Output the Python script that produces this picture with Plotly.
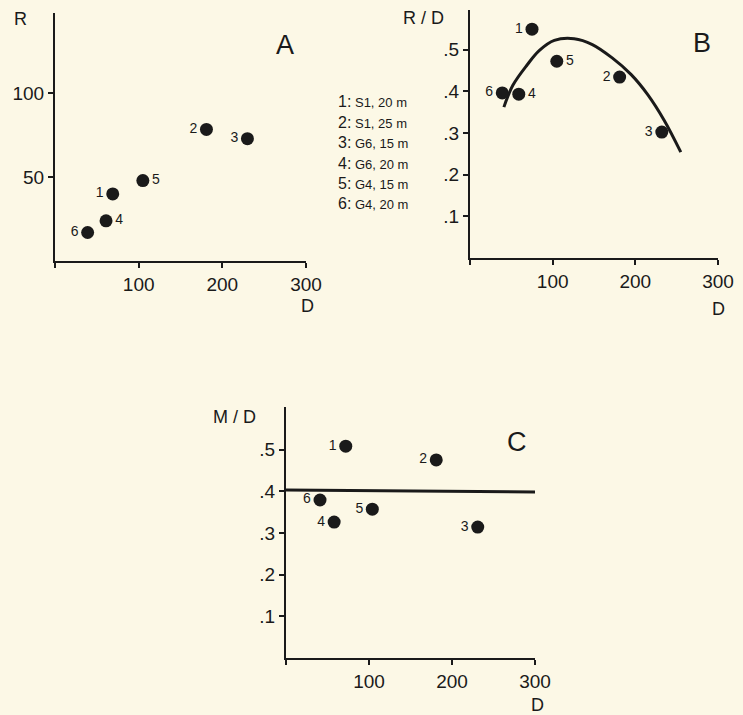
import plotly.graph_objects as go

W, H = 743, 715

# ---- data ----
labels = ["1", "2", "3", "4", "5", "6"]
legend_keys = ["1:", "2:", "3:", "4:", "5:", "6:"]
legend_vals = ["S1, 20 m", "S1, 25 m", "G6, 15 m", "G6, 20 m", "G4, 15 m", "G4, 20 m"]

D_A = [69, 181, 230, 61, 105, 39]
R_A = [40, 78.5, 73, 24, 48, 17]
pos_A = ["middle left", "middle left", "middle left", "middle right", "middle right", "middle left"]

D_B = [75, 181, 232, 59, 105, 39]
RD_B = [0.549, 0.434, 0.302, 0.393, 0.472, 0.396]
pos_B = ["middle left", "middle left", "middle left", "middle right", "middle right", "middle left"]
curve_D = [41, 52, 69, 84, 102, 126, 148, 172, 195, 215, 235, 255]
curve_RD = [0.362, 0.415, 0.463, 0.498, 0.522, 0.526, 0.512, 0.480, 0.440, 0.392, 0.330, 0.254]

D_C = [72, 181, 231, 58, 104, 41]
MD_C = [0.508, 0.475, 0.314, 0.326, 0.357, 0.379]
pos_C = ["middle left"] * 6
line_D = [0, 302]
line_MD = [0.403, 0.398]

x_ticks = [0, 100, 200, 300]
x_ticktext = ["", "100", "200", "300"]
yA_ticks = [50, 100]
yB_ticks = [0.1, 0.2, 0.3, 0.4, 0.5]
yB_ticktext = [".1", ".2", ".3", ".4", ".5"]

INK = "#1a1a1a"
BG = "#fcf8e6"
FONT = "Liberation Sans, Arial, Helvetica, sans-serif"


def px_x(p):
    return p / W


def px_y(p):
    return 1 - p / H


fig = go.Figure()


def pts(x, y, pos, xa, ya):
    fig.add_trace(go.Scatter(
        x=x, y=y, mode="markers+text", text=labels, textposition=pos,
        textfont=dict(size=14, color=INK, family=FONT),
        marker=dict(size=13, color=INK),
        xaxis=xa, yaxis=ya, showlegend=False, cliponaxis=False))


pts(D_A, R_A, pos_A, "x", "y")
fig.add_trace(go.Scatter(x=curve_D, y=curve_RD, mode="lines",
                         line=dict(color=INK, width=3, shape="spline", smoothing=1.0),
                         xaxis="x2", yaxis="y2", showlegend=False))
pts(D_B, RD_B, pos_B, "x2", "y2")
fig.add_trace(go.Scatter(x=line_D, y=line_MD, mode="lines", line=dict(color=INK, width=3),
                         xaxis="x3", yaxis="y3", showlegend=False, cliponaxis=False))
pts(D_C, MD_C, pos_C, "x3", "y3")

axis_common = dict(showgrid=False, zeroline=False, showline=True, linecolor=INK, linewidth=2,
                   ticks="outside", ticklen=5, tickwidth=2, tickcolor=INK, automargin=False,
                   tickfont=dict(size=19, color=INK, family=FONT))


def xax(d0, d1, anchor):
    return dict(axis_common, domain=[px_x(d0), px_x(d1)], range=[0, 300], tickvals=x_ticks,
                ticktext=x_ticktext, anchor=anchor)


def yax(d0, d1, rng, tv, tt, anchor):
    return dict(axis_common, domain=[px_y(d0), px_y(d1)], range=rng, tickvals=tv, ticktext=tt, anchor=anchor)


fig.update_layout(
    width=W, height=H, autosize=False, margin=dict(l=0, r=0, t=0, b=0, pad=0, autoexpand=False),
    paper_bgcolor=BG, plot_bgcolor="rgba(0,0,0,0)",
    font=dict(family=FONT, color=INK),
    xaxis=xax(55, 306, "y"),
    yaxis=yax(261, 13, [0, 148], yA_ticks, ["50", "100"], "x"),
    xaxis2=xax(470, 718, "y2"),
    yaxis2=yax(258, 10, [0, 0.595], yB_ticks, yB_ticktext, "x2"),
    xaxis3=xax(286, 535, "y3"),
    yaxis3=yax(658, 407, [0, 0.602], yB_ticks, yB_ticktext, "x3"),
)

ann = []


def txt(x, y, s, size, xanchor="center"):
    ann.append(dict(x=px_x(x), y=px_y(y), xref="paper", yref="paper", text=s, showarrow=False,
                    font=dict(size=size, color=INK, family=FONT), xanchor=xanchor, yanchor="middle"))


# axis titles
txt(20, 19, "R", 18)
txt(307, 306.5, "D", 18)
txt(423, 18, "R / D", 18)
txt(718, 309, "D", 18)
txt(235, 417, "M / D", 18)
txt(537, 705, "D", 18)
# panel letters
txt(285, 45, "A", 27)
txt(702, 43, "B", 27)
txt(517, 442, "C", 27)
# legend
for i, (k, v) in enumerate(zip(legend_keys, legend_vals)):
    txt(336, 102 + i * 20.4, f"<span style='font-size:16px'>{k}</span> {v}", 13, xanchor="left")

fig.update_layout(annotations=ann)
post = (
    "document.documentElement.style.overflow='hidden';"
    "document.body.style.overflow='hidden';"
    "document.body.style.margin='0';document.body.style.background='#fcf8e6';"
)
fig.write_html("out.html", config={"displayModeBar": False}, post_script=post)
